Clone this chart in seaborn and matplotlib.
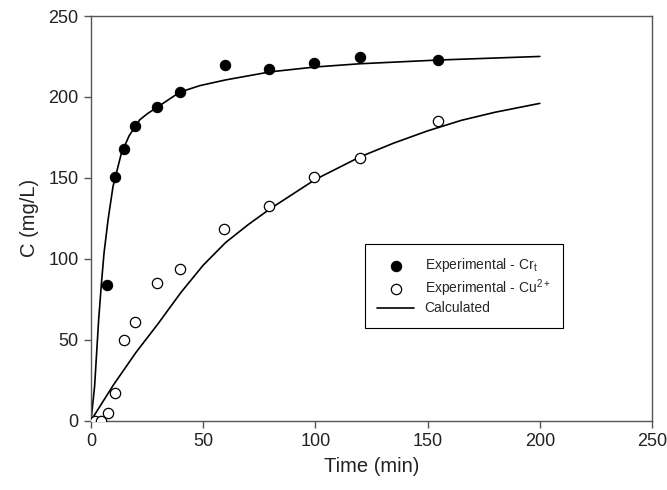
import matplotlib
matplotlib.use("Agg")
import matplotlib.pyplot as plt
import seaborn as sns
import pandas as pd

# ---- data ----
cr_time = [7.3, 10.6, 14.7, 19.6, 29.5, 39.7, 59.5, 79.5, 99.5, 119.7, 154.5]
cr_conc = [84, 150.4, 168, 182, 193.6, 203, 220, 217, 221, 224.5, 223]

cu_time = [1.8, 4.5, 7.4, 10.5, 14.7, 19.5, 29.5, 39.7, 59.4, 79.5, 99.5, 119.7, 154.5]
cu_conc = [0, 0, 4.5, 17, 49.6, 60.7, 85, 93.8, 118.2, 132.8, 150.7, 162.5, 184.8]

cr_fit_time = [0, 1.6, 2.5, 3.4, 4.6, 5.8, 7.6, 9.8, 13.5, 17, 21.7, 25, 29.5, 35, 39.7,
               48.6, 60, 80, 100, 120, 155, 200]
cr_fit_conc = [0, 21, 41.5, 62, 84, 103.4, 124, 144.6, 165, 176, 185.8, 189.5, 193.6, 198.7, 203,
               207, 210.5, 215.5, 218.5, 220.5, 222.8, 225]

cu_fit_time = [0, 10, 20, 30, 40, 50, 60, 70, 80, 100, 120, 135, 150, 165, 180, 200]
cu_fit_conc = [0, 22, 42, 60, 79, 96, 110, 121, 131, 149, 163, 171.5, 179, 185.5, 190.5, 196]

x_ticks = [0, 50, 100, 150, 200, 250]
y_ticks = [0, 50, 100, 150, 200, 250]

label_cr = r"Experimental - Cr$_\mathregular{t}$"
label_cu = r"Experimental - Cu$^\mathregular{2+}$"
label_fit = "Calculated"

sns.set_theme(style="white")
plt.rcParams["font.family"] = ["Liberation Sans", "DejaVu Sans"]
plt.rcParams["mathtext.fontset"] = "custom"
plt.rcParams["mathtext.rm"] = "Liberation Sans"

df_cr = pd.DataFrame({"t": cr_time, "c": cr_conc})
df_cu = pd.DataFrame({"t": cu_time, "c": cu_conc})
df_crf = pd.DataFrame({"t": cr_fit_time, "c": cr_fit_conc})
df_cuf = pd.DataFrame({"t": cu_fit_time, "c": cu_fit_conc})

fig = plt.figure(figsize=(6.67, 4.90), dpi=100)
ax = fig.add_axes([91 / 667, 1 - 420.5 / 490, (652 - 91) / 667, (420.5 - 16) / 490])

sns.lineplot(data=df_crf, x="t", y="c", ax=ax, color="black", linewidth=1.2,
             sort=False, estimator=None, label=label_fit, zorder=2)
sns.lineplot(data=df_cuf, x="t", y="c", ax=ax, color="black", linewidth=1.2,
             sort=False, estimator=None, label="_nolegend_", zorder=2)
sns.scatterplot(data=df_cr, x="t", y="c", ax=ax, color="black", s=55,
                edgecolor="black", linewidth=0.8, label=label_cr, zorder=3)
sns.scatterplot(data=df_cu, x="t", y="c", ax=ax, facecolor="white", s=55,
                edgecolor="black", linewidth=0.9, label=label_cu, zorder=3)

ax.set_xlim(0, 250)
ax.set_ylim(0, 250)
ax.set_xticks(x_ticks)
ax.set_yticks(y_ticks)
ax.set_xlabel("Time (min)", fontsize=14.5, color="#222222", labelpad=5)
ax.set_ylabel("C (mg/L)", fontsize=14.5, color="#222222", labelpad=7)
ax.tick_params(axis="both", which="major", labelsize=13, direction="out",
               length=5, width=1, color="#555555", labelcolor="#222222",
               bottom=True, left=True, top=False, right=False, pad=4)
for sp in ax.spines.values():
    sp.set_visible(True)
    sp.set_color("#555555")
    sp.set_linewidth(1.0)

handles, labels = ax.get_legend_handles_labels()
order = [label_cr, label_cu, label_fit]
hmap = dict(zip(labels, handles))
leg = ax.legend([hmap[l] for l in order], order, loc="upper left",
                bbox_to_anchor=(0.476, 0.454), fontsize=10, frameon=True,
                fancybox=False, edgecolor="black", framealpha=1,
                borderpad=0.9, handlelength=2.6, handletextpad=0.8, labelspacing=0.2)
leg.get_frame().set_linewidth(0.8)

fig.savefig("out.png", dpi=100)
